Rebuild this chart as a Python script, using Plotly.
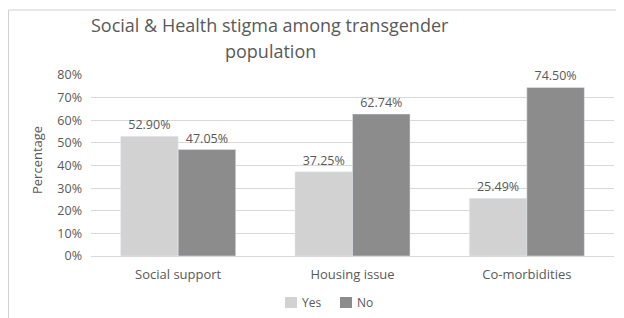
import plotly.graph_objects as go

categories = ["Social support", "Housing issue", "Co-morbidities"]
series_names = ["Yes", "No"]
yes_vals = [0.5290, 0.3725, 0.2549]
no_vals = [0.4705, 0.6274, 0.7450]
yes_labels = ["52.90%", "37.25%", "25.49%"]
no_labels = ["47.05%", "62.74%", "74.50%"]
y_ticks = [0, 0.1, 0.2, 0.3, 0.4, 0.5, 0.6, 0.7, 0.8]
y_tick_labels = ["0%", "10%", "20%", "30%", "40%", "50%", "60%", "70%", "80%"]

W, H = 624, 318
OFF = 8  # page offset of the figure
L, R, T, B = 91 - OFF, 18, 75 - OFF, 70
pw, ph = W - L - R, H - T - B

def px_x(x):
    return (x - OFF - L) / pw

def px_y(y):
    return (H - B - (y - OFF)) / ph

FONT = "Open Sans"
COLORS = ["#d2d2d2", "#8c8c8c"]
fig = go.Figure()
fig.add_trace(go.Bar(x=categories, y=yes_vals, name=series_names[0], marker_color=COLORS[0],
                     text=yes_labels, textposition="outside", cliponaxis=False,
                     textfont=dict(size=12.5, color="#595959", family=FONT)))
fig.add_trace(go.Bar(x=categories, y=no_vals, name=series_names[1], marker_color=COLORS[1],
                     text=no_labels, textposition="outside", cliponaxis=False,
                     textfont=dict(size=12.5, color="#595959", family=FONT)))

annotations = [
    dict(text="Social & Health stigma among transgender", xref="paper", yref="paper",
         x=px_x(270), y=px_y(25), xanchor="center", yanchor="middle",
         showarrow=False, font=dict(size=18, color="#595959", family=FONT)),
    dict(text="population", xref="paper", yref="paper",
         x=px_x(270), y=px_y(51), xanchor="center", yanchor="middle",
         showarrow=False, font=dict(size=18, color="#595959", family=FONT)),
    dict(text="Percentage", xref="paper", yref="paper", textangle=-90,
         x=px_x(37), y=px_y(160), xanchor="center", yanchor="middle",
         showarrow=False, font=dict(size=13, color="#595959", family=FONT)),
]
shapes = [
    dict(type="line", xref="paper", yref="paper",
         x0=px_x(8.5), x1=px_x(8.5), y0=px_y(330), y1=px_y(10),
         line=dict(color="#d0d0d0", width=1)),
    dict(type="line", xref="paper", yref="paper",
         x0=px_x(8.5), x1=px_x(640), y0=px_y(10), y1=px_y(10),
         line=dict(color="#d0d0d0", width=1)),
]
# manual legend
legend_x = [285, 340]
for name, col, lx in zip(series_names, COLORS, legend_x):
    shapes.append(dict(type="rect", xref="paper", yref="paper",
                       x0=px_x(lx), x1=px_x(lx + 12), y0=px_y(308), y1=px_y(297),
                       fillcolor=col, line=dict(width=0)))
    annotations.append(dict(text=name, xref="paper", yref="paper",
                            x=px_x(lx + 15), y=px_y(302.5), xanchor="left", yanchor="middle",
                            showarrow=False, font=dict(size=12, color="#595959", family=FONT)))

fig.update_layout(
    width=W, height=H,
    margin=dict(l=L, r=R, t=T, b=B, autoexpand=False),
    paper_bgcolor="white", plot_bgcolor="white",
    barmode="group", bargap=0.34, bargroupgap=0,
    font=dict(family=FONT, color="#595959"),
    showlegend=False,
    yaxis=dict(range=[0, 0.8], tickvals=y_ticks, ticktext=y_tick_labels,
               showgrid=True, gridcolor="#d9d9d9", gridwidth=1, zeroline=False,
               showline=False, ticks="", ticklabelstandoff=8,
               tickfont=dict(size=12.5, color="#595959")),
    xaxis=dict(showline=True, linecolor="#d9d9d9", ticks="", ticklabelstandoff=6,
               tickfont=dict(size=13, color="#595959")),
    annotations=annotations,
    shapes=shapes,
)
fig.write_html("out.html")
